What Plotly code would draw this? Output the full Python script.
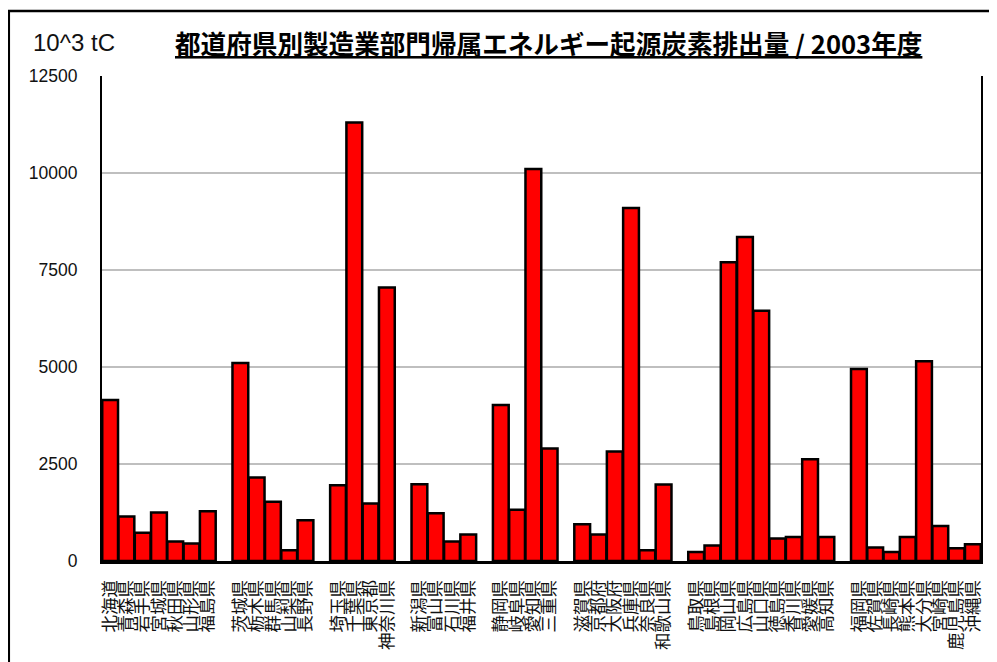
import plotly.graph_objects as go

# ---- data (10^3 tC), grouped by region ----
hokkaido_tohoku = ["北海道", "青森県", "岩手県", "宮城県", "秋田県", "山形県", "福島県"]
hokkaido_tohoku_v = [4150, 1150, 730, 1250, 500, 450, 1280]

kanto_a = ["茨城県", "栃木県", "群馬県", "山梨県", "長野県"]
kanto_a_v = [5100, 2150, 1530, 280, 1050]

kanto_b = ["埼玉県", "千葉県", "東京都", "神奈川県"]
kanto_b_v = [1950, 11300, 1480, 7050]

hokuriku = ["新潟県", "富山県", "石川県", "福井県"]
hokuriku_v = [1980, 1230, 500, 680]

chubu = ["静岡県", "岐阜県", "愛知県", "三重県"]
chubu_v = [4020, 1320, 10100, 2900]

kinki = ["滋賀県", "京都府", "大阪府", "兵庫県", "奈良県", "和歌山県"]
kinki_v = [950, 680, 2820, 9100, 280, 1970]

chugoku_shikoku = ["鳥取県", "島根県", "岡山県", "広島県", "山口県", "徳島県", "香川県", "愛媛県", "高知県"]
chugoku_shikoku_v = [230, 400, 7700, 8350, 6450, 580, 620, 2620, 620]

kyushu = ["福岡県", "佐賀県", "長崎県", "熊本県", "大分県", "宮崎県", "鹿児島県", "沖縄県"]
kyushu_v = [4950, 350, 230, 620, 5150, 900, 330, 430]

y_ticks = [0, 2500, 5000, 7500, 10000, 12500]
title_text = "都道府県別製造業部門帰属エネルギー起源炭素排出量 / 2003年度"
unit_text = "10^3 tC"

groups = [
    (hokkaido_tohoku, hokkaido_tohoku_v),
    (kanto_a, kanto_a_v),
    (kanto_b, kanto_b_v),
    (hokuriku, hokuriku_v),
    (chubu, chubu_v),
    (kinki, kinki_v),
    (chugoku_shikoku, chugoku_shikoku_v),
    (kyushu, kyushu_v),
]

cats, vals, labels = [], [], []
for i, (names, values) in enumerate(groups):
    cats.extend(names)
    vals.extend(values)
    labels.extend(names)
    if i < len(groups) - 1:
        cats.append(" " * (i + 1))  # empty spacer slot between regions
        vals.append(None)
        labels.append("")

fig = go.Figure(
    go.Bar(
        x=cats,
        y=vals,
        marker=dict(color="#ff0000", line=dict(color="black", width=2.5)),
        hoverinfo="x+y",
    )
)

# page body has an 8px margin: lay out in viewport pixels, then shift
OFF = 8
VW, VH = 997, 662
W, H = VW - OFF, VH - OFF
PL, PR, PT, PB = 102, 981, 76, 561          # plot area in viewport px
L, R, T, B = PL - OFF, W - (PR - OFF), PT - OFF, H - (PB - OFF)
pw, ph = W - L - R, H - T - B

def px_x(p):
    return (p - OFF - L) / pw

def px_y(p):
    return (H - B - (p - OFF)) / ph

fig.update_layout(
    width=W,
    height=H,
    margin=dict(l=L, r=R, t=T, b=B, pad=0, autoexpand=False),
    paper_bgcolor="white",
    plot_bgcolor="white",
    bargap=0.03,
    showlegend=False,
    font=dict(family="Liberation Sans, Arial, sans-serif", color="black"),
    xaxis=dict(
        type="category",
        categoryorder="array",
        categoryarray=cats,
        tickmode="array",
        tickvals=cats,
        ticktext=labels,
        tickangle=-90,
        tickfont=dict(family="Noto Sans CJK JP", size=17.5, color="#111111"),
        showline=True,
        linecolor="black",
        linewidth=3,
        showgrid=False,
        ticks="",
        ticklabelstandoff=9,
        automargin=False,
        fixedrange=True,
    ),
    yaxis=dict(
        range=[0, 12500],
        tickvals=y_ticks,
        ticktext=[str(v) for v in y_ticks],
        tickfont=dict(family="Liberation Sans, Arial, sans-serif", size=17.5, color="#111111"),
        showline=True,
        mirror=True,
        linecolor="black",
        linewidth=2,
        showgrid=True,
        gridcolor="#bfbfbf",
        gridwidth=2,
        zeroline=False,
        ticks="",
        ticklabelstandoff=19,
        automargin=False,
        fixedrange=True,
    ),
    annotations=[
        dict(
            text="<u><b>" + title_text + "</b></u>",
            x=px_x(173), y=px_y(42),
            xref="paper", yref="paper",
            xanchor="left", yanchor="middle",
            showarrow=False,
            font=dict(family="Noto Sans CJK JP", size=25.6, color="black"),
        ),
        dict(
            text=unit_text,
            x=px_x(31), y=px_y(42),
            xref="paper", yref="paper",
            xanchor="left", yanchor="middle",
            showarrow=False,
            font=dict(family="Liberation Sans, Arial, sans-serif", size=24, color="#111111"),
        ),
    ],
    shapes=[
        dict(
            type="rect",
            xref="paper", yref="paper",
            x0=px_x(OFF + 0.8), y0=px_y(11), x1=px_x(1010), y1=px_y(690),
            line=dict(color="black", width=2.5),
            fillcolor="rgba(0,0,0,0)",
            layer="below",
        )
    ],
)

fig.write_html("out.html")
